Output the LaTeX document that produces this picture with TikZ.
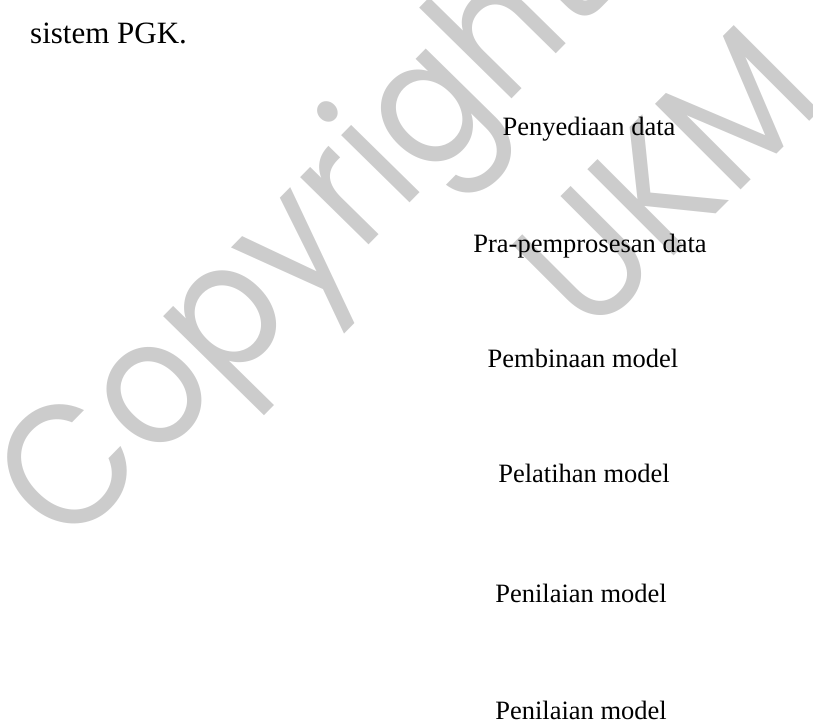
\documentclass[tikz,border=0pt]{standalone}
\usepackage{fontspec}
\setmainfont{Liberation Serif}
\newfontfamily\wmfont[FakeStretch=0.9]{Poppins}
\usepackage{xcolor}
\usepackage{tikz}
\usetikzlibrary{positioning}
\definecolor{markgray}{RGB}{204,204,204}
\tikzset{
  bodytext/.style={
    anchor=base west,
    inner sep=0pt,
    font=\fontsize{31}{31}\selectfont
  },
  steplabel/.style={
    anchor=base,
    inner sep=0pt,
    font=\fontsize{26.5}{26.5}\selectfont
  },
  watermark/.style={
    anchor=base,
    inner sep=0pt,
    text=markgray,
    font=\wmfont\fontsize{175}{175}\selectfont
  },
}

\begin{document}
\begin{tikzpicture}[x=1pt,y=-1pt]
  \useasboundingbox (0,0) rectangle (813,720);
  % Watermark behind the page
  \node[watermark,rotate=45.5] (wmcopy) at (341,273) {Copyright};
  \node[watermark,rotate=45] (wmukm) at (709,221) {UKM};

  % Caption line from the text
  \node[bodytext] (caption) at (30,43) {sistem PGK.};

  % Stages of the system
  \node[steplabel] (supply)  at (589,135) {Penyediaan data};
  \node[steplabel] (preproc) at (590,252) {Pra-pemprosesan data};
  \node[steplabel] (build)   at (583,367) {Pembinaan model};
  \node[steplabel] (train)   at (584,482) {Pelatihan model};
  \node[steplabel] (assessA) at (581,602) {Penilaian model};
  \node[steplabel] (assessB) at (581,719) {Penilaian model};
\end{tikzpicture}
\end{document}
